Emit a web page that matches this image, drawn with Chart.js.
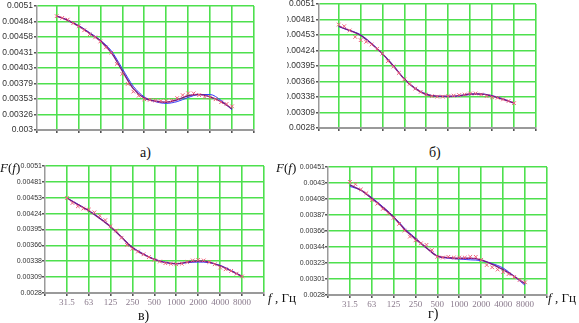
<!DOCTYPE html>
<html>
<head>
<meta charset="utf-8">
<script src="https://cdn.jsdelivr.net/npm/chart.js@4.4.0/dist/chart.umd.min.js"></script>
<style>
  body { margin: 0; background: #fff; }
  #wrap { position: relative; width: 579px; height: 323px; overflow: hidden; background: #fff; font-family: 'Liberation Serif', 'Times New Roman', serif; }
  #wrap canvas { position: absolute; }
  .txt { position: absolute; color: #111; white-space: nowrap; line-height: 1; }
  .cap { font-size: 14px; }
  .ax { font-size: 13px; }
</style>
</head>
<body>
<div id="wrap">
  <canvas id="chartA"></canvas>
  <canvas id="chartB"></canvas>
  <canvas id="chartV"></canvas>
  <canvas id="chartG"></canvas>

  <div class="txt cap" style="left:140px;top:146px;">а)</div>
  <div class="txt cap" style="left:429px;top:146px;">б)</div>
  <div class="txt cap" style="left:138px;top:309px;">в)</div>
  <div class="txt cap" style="left:428px;top:307px;">г)</div>

  <div class="txt ax" style="left:0px;top:161px;"><i>F</i>(<i>f</i>)</div>
  <div class="txt ax" style="left:276px;top:161px;"><i>F</i>(<i>f</i>)</div>
  <div class="txt ax" style="left:268px;top:291px;"><i>f</i> , Гц</div>
  <div class="txt ax" style="left:548px;top:291px;"><i>f</i> , Гц</div>
</div>

<script>
// measurement frequencies (1/4 octave), Hz
const bandFreqs = [31.5, 37.5, 44.5, 53, 63, 75, 89, 106, 125, 149, 177, 210, 250, 297, 354, 420,
                   500, 595, 707, 841, 1000, 1189, 1414, 1682, 2000, 2378, 2828, 3364, 4000, 4757, 5657, 6727, 8000];
// frequencies of the fitted curves (1/2 octave), Hz
const fitFreqs = [31.5, 44.5, 63, 89, 125, 177, 250, 354, 500, 707, 1000, 1414, 2000, 2828, 4000, 5657, 8000];
// octave grid
const octaveFreqs = [31.5, 63, 125, 250, 500, 1000, 2000, 4000, 8000];
const xTickLabels = ['31.5', '63', '125', '250', '500', '1000', '2000', '4000', '8000'];

// а)
const measA = [0.00493, 0.00490, 0.00487, 0.00481, 0.00476, 0.00469, 0.00462, 0.00457, 0.00450, 0.00440, 0.00431,
               0.00412, 0.00395, 0.00378, 0.00365, 0.00358, 0.00352, 0.00351, 0.00350, 0.00349, 0.00349, 0.00350,
               0.00354, 0.00359, 0.00362, 0.00362, 0.00359, 0.00356, 0.00355, 0.00352, 0.00347, 0.00344, 0.00340];
const blueA = [0.00493, 0.00486, 0.00477, 0.00465, 0.00452, 0.00434, 0.00404, 0.00374, 0.00356,
               0.00348, 0.00345, 0.00348, 0.00355, 0.00360, 0.00360, 0.00350, 0.00334];
const purpleA = [0.00493, 0.00486, 0.00476, 0.00464, 0.00451, 0.00431, 0.00400, 0.00370, 0.00354,
                 0.00349, 0.00347, 0.00351, 0.00358, 0.00360, 0.00356, 0.00348, 0.00336];
const yTicksA = ['0.0051', '0.00484', '0.00458', '0.00431', '0.00403', '0.00379', '0.00353', '0.00326', '0.003'];

// б)
const measB = [0.00472, 0.00469, 0.00461, 0.00449, 0.00443, 0.00440, 0.00435, 0.00427, 0.00418, 0.00404, 0.00394,
               0.00382, 0.00370, 0.00362, 0.00353, 0.00347, 0.00342, 0.00339, 0.00338, 0.00338, 0.00339, 0.00340,
               0.00341, 0.00342, 0.00344, 0.00344, 0.00342, 0.00339, 0.00337, 0.00336, 0.00333, 0.00330, 0.00326];
const blueB = [0.00468, 0.00461, 0.00453, 0.00437, 0.00418, 0.00396, 0.00371, 0.00354, 0.00343,
               0.00339, 0.00338, 0.00339, 0.00342, 0.00343, 0.00340, 0.00334, 0.00326];
const purpleB = [0.00469, 0.00461, 0.00452, 0.00436, 0.00418, 0.00395, 0.00371, 0.00353, 0.00342,
                 0.00339, 0.00339, 0.00340, 0.00343, 0.00343, 0.00339, 0.00333, 0.00326];
const yTicksB = ['0.0051', '0.00481', '0.00453', '0.00424', '0.00395', '0.00366', '0.00338', '0.00309', '0.0028'];

// в)
const measV = [0.00452, 0.00443, 0.00437, 0.00433, 0.00431, 0.00426, 0.00420, 0.00412, 0.00401, 0.00393, 0.00380,
               0.00367, 0.00360, 0.00355, 0.00350, 0.00345, 0.00340, 0.00337, 0.00334, 0.00333, 0.00332, 0.00333,
               0.00336, 0.00339, 0.00340, 0.00339, 0.00336, 0.00332, 0.00326, 0.00323, 0.00320, 0.00315, 0.00310];
const blueV = [0.00452, 0.00441, 0.00429, 0.00416, 0.00400, 0.00381, 0.00363, 0.00351, 0.00341,
               0.00336, 0.00333, 0.00335, 0.00336, 0.00335, 0.00330, 0.00321, 0.00310];
const purpleV = [0.00452, 0.00440, 0.00429, 0.00415, 0.00400, 0.00381, 0.00362, 0.00350, 0.00341,
                 0.00335, 0.00333, 0.00336, 0.00338, 0.00336, 0.00329, 0.00320, 0.00310];
const yTicksV = ['0.0051', '0.00481', '0.00453', '0.00424', '0.00395', '0.00366', '0.00338', '0.00309', '0.0028'];

// г)
const measG = [0.00431, 0.00428, 0.00421, 0.00416, 0.00407, 0.00402, 0.00395, 0.00389, 0.00383, 0.00375, 0.00366,
               0.00358, 0.00353, 0.00349, 0.00347, 0.00340, 0.00331, 0.00330, 0.00331, 0.00330, 0.00330, 0.00330,
               0.00331, 0.00331, 0.00327, 0.00320, 0.00317, 0.00314, 0.00311, 0.00308, 0.00304, 0.00300, 0.00297];
const blueG = [0.00425, 0.00420, 0.00410, 0.00398, 0.00385, 0.00369, 0.00356, 0.00343, 0.00332,
               0.00329, 0.00328, 0.00327, 0.00326, 0.00322, 0.00316, 0.00305, 0.00293];
const purpleG = [0.00427, 0.00420, 0.00409, 0.00397, 0.00384, 0.00368, 0.00355, 0.00343, 0.00332,
                 0.00330, 0.00329, 0.00329, 0.00327, 0.00321, 0.00314, 0.00305, 0.00295];
const yTicksG = ['0.00451', '0.0043', '0.00408', '0.00387', '0.00366', '0.00344', '0.00323', '0.00301', '0.0028'];

const gridGreen = '#4ee04e';
const axisGray = '#9a9a9a';

function toPoints(freqs, vals) {
  return freqs.map((f, i) => ({ x: f, y: vals[i] }));
}

function makePanel(id, p) {
  const padTop = 5, padRight = 2;
  const yW = p.yW;
  const xH = p.showX ? 16 : 6;
  const w = yW + (p.right - p.left) + padRight;
  const h = padTop + (p.bottom - p.top) + xH;
  const cv = document.getElementById(id);
  cv.width = w; cv.height = h;
  cv.style.width = w + 'px'; cv.style.height = h + 'px';
  cv.style.left = (p.left - yW) + 'px';
  cv.style.top = (p.top - padTop) + 'px';

  const yMin = parseFloat(p.yTicks[p.yTicks.length - 1]);
  const yMax = parseFloat(p.yTicks[0]);

  new Chart(cv, {
    type: 'scatter',
    data: {
      datasets: [
        {
          data: toPoints(bandFreqs, p.meas),
          pointStyle: 'crossRot',
          pointRadius: 2.6,
          borderColor: '#f0607a',
          borderWidth: 1,
          showLine: false
        },
        {
          data: toPoints(fitFreqs, p.purple),
          showLine: true,
          borderColor: '#7a1a82',
          borderWidth: 1.4,
          pointRadius: 0,
          cubicInterpolationMode: 'monotone'
        },
        {
          data: toPoints(fitFreqs, p.blue),
          showLine: true,
          borderColor: '#2f3cff',
          borderWidth: 1,
          pointRadius: 0,
          cubicInterpolationMode: 'monotone'
        }
      ]
    },
    options: {
      responsive: false,
      animation: false,
      events: [],
      layout: { padding: { top: padTop, right: padRight, left: 0, bottom: 0 } },
      plugins: { legend: { display: false }, tooltip: { enabled: false } },
      scales: {
        x: {
          type: 'logarithmic',
          min: p.xMin,
          max: 16000,
          afterBuildTicks: s => {
            s.ticks = [p.xMin, ...octaveFreqs, 16000].map(v => ({ value: v }));
          },
          afterFit: s => { s.height = xH; },
          grid: {
            color: c => (c.index === 0 ? 'rgba(0,0,0,0)' : gridGreen),
            lineWidth: 1.6,
            tickLength: 3,
            tickColor: '#555'
          },
          border: { color: axisGray, width: 2 },
          ticks: {
            autoSkip: false,
            maxRotation: 0,
            padding: 1,
            color: '#8a7a8c',
            font: { family: "'Liberation Serif', serif", size: 9 },
            callback: (v, i) => (p.showX && i >= 1 && i <= xTickLabels.length ? xTickLabels[i - 1] : '')
          }
        },
        y: {
          min: yMin,
          max: yMax,
          afterBuildTicks: s => {
            s.ticks = p.yTicks.map((_, i) => ({ value: yMin + i * (yMax - yMin) / (p.yTicks.length - 1) }));
          },
          afterFit: s => { s.width = yW; },
          grid: {
            color: c => (c.index === 0 ? 'rgba(0,0,0,0)' : gridGreen),
            lineWidth: 1.6,
            tickLength: 3,
            tickColor: '#555'
          },
          border: { color: axisGray, width: 1.5 },
          ticks: {
            autoSkip: false,
            padding: p.yPad,
            color: '#333',
            font: { family: "'Liberation Sans', sans-serif", size: p.yFont },
            callback: (v, i) => p.yTicks[p.yTicks.length - 1 - i]
          }
        }
      }
    }
  });
}

makePanel('chartA', { left: 37, right: 257, top: 5, bottom: 130, yW: 37, xMin: 16.9, yFont: 8.5, yPad: 1,
  yTicks: yTicksA, meas: measA, blue: blueA, purple: purpleA, showX: false });
makePanel('chartB', { left: 319, right: 539, top: 3, bottom: 128, yW: 32, xMin: 16.9, yFont: 8.5, yPad: 1,
  yTicks: yTicksB, meas: measB, blue: blueB, purple: purpleB, showX: false });
makePanel('chartV', { left: 45, right: 267, top: 166, bottom: 293, yW: 33, xMin: 15.75, yFont: 7, yPad: 0,
  yTicks: yTicksV, meas: measV, blue: blueV, purple: purpleV, showX: true });
makePanel('chartG', { left: 328, right: 550, top: 167, bottom: 295, yW: 33, xMin: 15.75, yFont: 7, yPad: 0,
  yTicks: yTicksG, meas: measG, blue: blueG, purple: purpleG, showX: true });
</script>
</body>
</html>
